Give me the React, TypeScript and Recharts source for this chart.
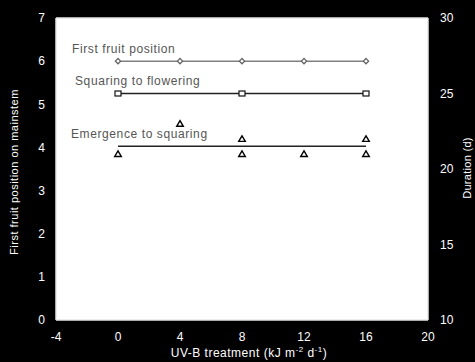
import React from "react";
import {
  ComposedChart,
  Line,
  Scatter,
  XAxis,
  YAxis,
  ReferenceArea,
  ReferenceLine,
  Label,
} from "recharts";

// UV-B treatment levels (kJ m-2 d-1)
const uvbLevels = [0, 4, 8, 12, 16];
// First fruit position on mainstem (left axis)
const firstFruitPosition = [6, 6, 6, 6, 6];
// Squaring to flowering duration (d, right axis)
const squaringX = [0, 8, 16];
const squaringDays = [25, 25, 25];
// Emergence to squaring duration (d, right axis) – individual observations
const emergenceX = [0, 4, 8, 8, 12, 16, 16];
const emergenceDays = [21, 23, 22, 21, 21, 22, 21];
// Emergence to squaring mean line
const emergenceMeanX = [0, 16];
const emergenceMeanDays = [21.5, 21.5];

const seriesNames = ["First fruit position", "Squaring to flowering", "Emergence to squaring"];

const xTicks = [-4, 0, 4, 8, 12, 16, 20];
const leftTicks = [0, 1, 2, 3, 4, 5, 6, 7];
const rightTicks = [10, 15, 20, 25, 30];

const fruitData = uvbLevels.map((x, i) => ({ x, v: firstFruitPosition[i] }));
const squaringData = squaringX.map((x, i) => ({ x, d: squaringDays[i] }));
const emergenceData = emergenceX.map((x, i) => ({ x, d: emergenceDays[i] }));
const emergenceMeanData = emergenceMeanX.map((x, i) => ({ x, d: emergenceMeanDays[i] }));

const FONT = "'Liberation Sans', Arial, Helvetica, sans-serif";
const tickStyle = { fill: "#ffffff", fontSize: 12, fontFamily: FONT };

const Diamond = (props: any) => {
  const { cx, cy } = props;
  if (cx == null || cy == null) return <g key={props.key} />;
  const r = 2.6;
  return (
    <path
      key={props.key}
      d={`M${cx},${cy - r}L${cx + r},${cy}L${cx},${cy + r}L${cx - r},${cy}Z`}
      fill="#ffffff"
      stroke="#666666"
      strokeWidth={1.3}
    />
  );
};

const Square = (props: any) => {
  const { cx, cy } = props;
  if (cx == null || cy == null) return <g key={props.key} />;
  return (
    <rect
      key={props.key}
      x={cx - 3}
      y={cy - 2.5}
      width={6}
      height={5}
      fill="#ffffff"
      stroke="#111111"
      strokeWidth={1.2}
    />
  );
};

const Triangle = (props: any) => {
  const { cx, cy } = props;
  if (cx == null || cy == null) return <g />;
  return (
    <path
      d={`M${cx},${cy - 3}L${cx + 3.3},${cy + 2.6}L${cx - 3.3},${cy + 2.6}Z`}
      fill="#ffffff"
      stroke="#000000"
      strokeWidth={1.4}
    />
  );
};

const XLabel = (props: any) => {
  const vb = props.viewBox || {};
  const cx = (vb.x ?? 56) + (vb.width ?? 372) / 2 + 7;
  return (
    <text x={cx} y={357} textAnchor="middle" fill="#ffffff" fontSize={12} fontFamily={FONT} letterSpacing={0.5}>
      UV-B treatment (kJ m
      <tspan dy={-5} fontSize={8}>-2</tspan>
      <tspan dy={5}> d</tspan>
      <tspan dy={-5} fontSize={8}>-1</tspan>
      <tspan dy={5}>)</tspan>
    </text>
  );
};

const LeftLabel = () => (
  <text
    x={18}
    y={172}
    transform="rotate(-90 18 172)"
    textAnchor="middle"
    fill="#ffffff"
    fontSize={11}
    fontFamily={FONT}
    letterSpacing={0.5}
  >
    First fruit position on mainstem
  </text>
);

const RightLabel = () => (
  <text
    x={471}
    y={168}
    transform="rotate(-90 471 168)"
    textAnchor="middle"
    fill="#ffffff"
    fontSize={11}
    fontFamily={FONT}
    letterSpacing={0.3}
  >
    Duration (d)
  </text>
);

export default function App() {
  const textProps = { fill: "#555555", fontSize: 12, fontFamily: FONT, letterSpacing: 0.6 };
  return (
    <div
      style={{
        position: "fixed",
        left: 0,
        top: 0,
        width: 475,
        height: 362,
        background: "#000000",
      }}
    >
      <ComposedChart
        width={475}
        height={362}
        margin={{ top: 18, right: 0, left: 0, bottom: 0 }}
      >
        <XAxis
          type="number"
          dataKey="x"
          domain={[-4, 20]}
          ticks={xTicks}
          interval={0}
          height={42}
          tickSize={0}
          tickMargin={12}
          tick={tickStyle}
          axisLine={{ stroke: "#e6e6e6", strokeWidth: 1.5 }}
          tickLine={false}
          allowDataOverflow
        >
          <Label content={<XLabel />} />
        </XAxis>
        <YAxis
          yAxisId="left"
          type="number"
          domain={[0, 7]}
          ticks={leftTicks}
          interval={0}
          width={56}
          tickSize={0}
          tickMargin={11}
          tick={tickStyle}
          axisLine={{ stroke: "#e6e6e6", strokeWidth: 1.5 }}
          tickLine={false}
        >
          <Label content={<LeftLabel />} />
        </YAxis>
        <YAxis
          yAxisId="right"
          orientation="right"
          type="number"
          domain={[10, 30]}
          ticks={rightTicks}
          interval={0}
          width={47}
          tickSize={0}
          tickMargin={12}
          tick={tickStyle}
          axisLine={{ stroke: "#e6e6e6", strokeWidth: 1.5 }}
          tickLine={false}
        >
          <Label content={<RightLabel />} />
        </YAxis>

        <ReferenceArea
          yAxisId="left"
          x1={-4}
          x2={20}
          y1={0}
          y2={7}
          fill="#ffffff"
          fillOpacity={1}
          stroke="none"
          ifOverflow="visible"
        />
        <ReferenceLine yAxisId="left" y={7} stroke="#e6e6e6" strokeWidth={1.5} />

        <Line
          yAxisId="left"
          data={fruitData}
          dataKey="v"
          stroke="#808080"
          strokeWidth={1.5}
          dot={Diamond}
          activeDot={false}
          isAnimationActive={false}
        />
        <Line
          yAxisId="right"
          data={squaringData}
          dataKey="d"
          stroke="#222222"
          strokeWidth={1.5}
          dot={Square}
          activeDot={false}
          isAnimationActive={false}
        />
        <Line
          yAxisId="right"
          data={emergenceMeanData}
          dataKey="d"
          stroke="#222222"
          strokeWidth={1.5}
          dot={false}
          activeDot={false}
          isAnimationActive={false}
        />
        <Scatter
          yAxisId="right"
          data={emergenceData}
          dataKey="d"
          shape={Triangle}
          isAnimationActive={false}
        />
      </ComposedChart>
      <svg
        width={475}
        height={362}
        style={{ position: "absolute", left: 0, top: 0, pointerEvents: "none" }}
      >
        <text x={72} y={53} {...textProps}>{seriesNames[0]}</text>
        <text x={75} y={85} {...textProps}>{seriesNames[1]}</text>
        <text x={71} y={138} {...textProps}>{seriesNames[2]}</text>
      </svg>
    </div>
  );
}
